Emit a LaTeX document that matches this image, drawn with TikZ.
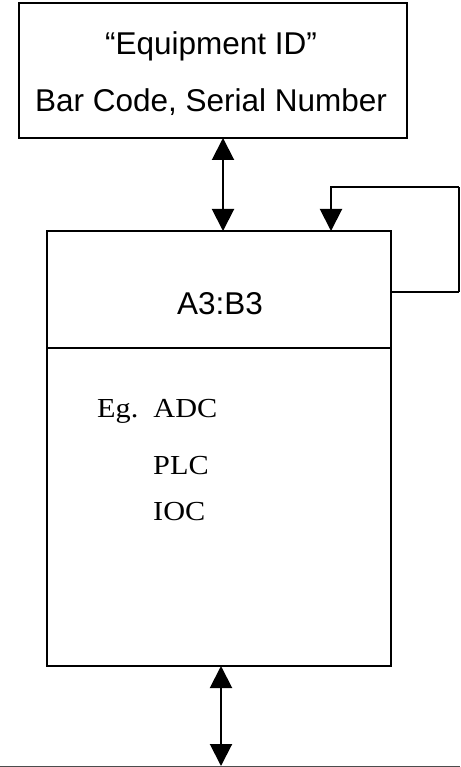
\documentclass[tikz,border=0pt]{standalone}
\usepackage{fontspec}
\setmainfont{Liberation Serif}
\newfontfamily\arialfont{Liberation Sans}
\usetikzlibrary{arrows.meta,calc}
\begin{document}
\begin{tikzpicture}[x=1pt,y=-1pt,
  box/.style={draw, line width=2.5pt, inner sep=0pt, outer sep=0pt},
  sans/.style={font=\arialfont\fontsize{31.5}{37}\selectfont, inner sep=0pt, anchor=base},
  serif/.style={font=\fontsize{27.5}{32}\selectfont, inner sep=0pt, anchor=base west},
  conn/.style={line width=2pt},
  tip/.style={-{Triangle[length=22pt,width=22pt]}},
  dtip/.style={{Triangle[length=22pt,width=22pt]}-{Triangle[length=22pt,width=22pt]}}]
\useasboundingbox (0,0) rectangle (460,767);
% top box
\node[box, minimum width=388pt, minimum height=135pt] (top) at (213,70.5) {};
\node[sans] (t1) at (211,55) {“Equipment ID”};
\node[sans] (t2) at (211,112) {Bar Code, Serial Number};
% main box
\node[box, minimum width=344pt, minimum height=117pt] (hdr) at (219,289.5) {};
\node[box, minimum width=344pt, minimum height=318pt] (body) at (219,507) {};
\node[sans] (lab) at (220,314) {A3:B3};
\node[serif] (e1) at (97,417) {\scalebox{1.1}[1]{Eg.\ \ ADC}};
\node[serif] (e2) at (153,474) {\scalebox{1.1}[1]{PLC}};
\node[serif] (e3) at (153,520) {\scalebox{1.1}[1]{IOC}};
% connectors
\coordinate (ax) at (223,0);
\draw[conn, dtip] (top.south -| ax) -- (hdr.north -| ax);
\coordinate (fr) at (459,292);
\coordinate (fu) at (459,187);
\coordinate (fx) at (331,0);
\draw[conn] (hdr.east |- fr) -- (fr);
\draw[line width=1.5pt] (fr) -- (fu);
\draw[conn, tip] (fu) -- (fu -| fx) -- (hdr.north -| fx);
\coordinate (bx) at (221,766);
\draw[conn, dtip] (body.south -| bx) -- (bx);
\coordinate (bl) at (0,766);
\coordinate (br) at (460,766);
\draw[line width=1pt, black!70] (bl) -- (br);
\end{tikzpicture}
\end{document}
